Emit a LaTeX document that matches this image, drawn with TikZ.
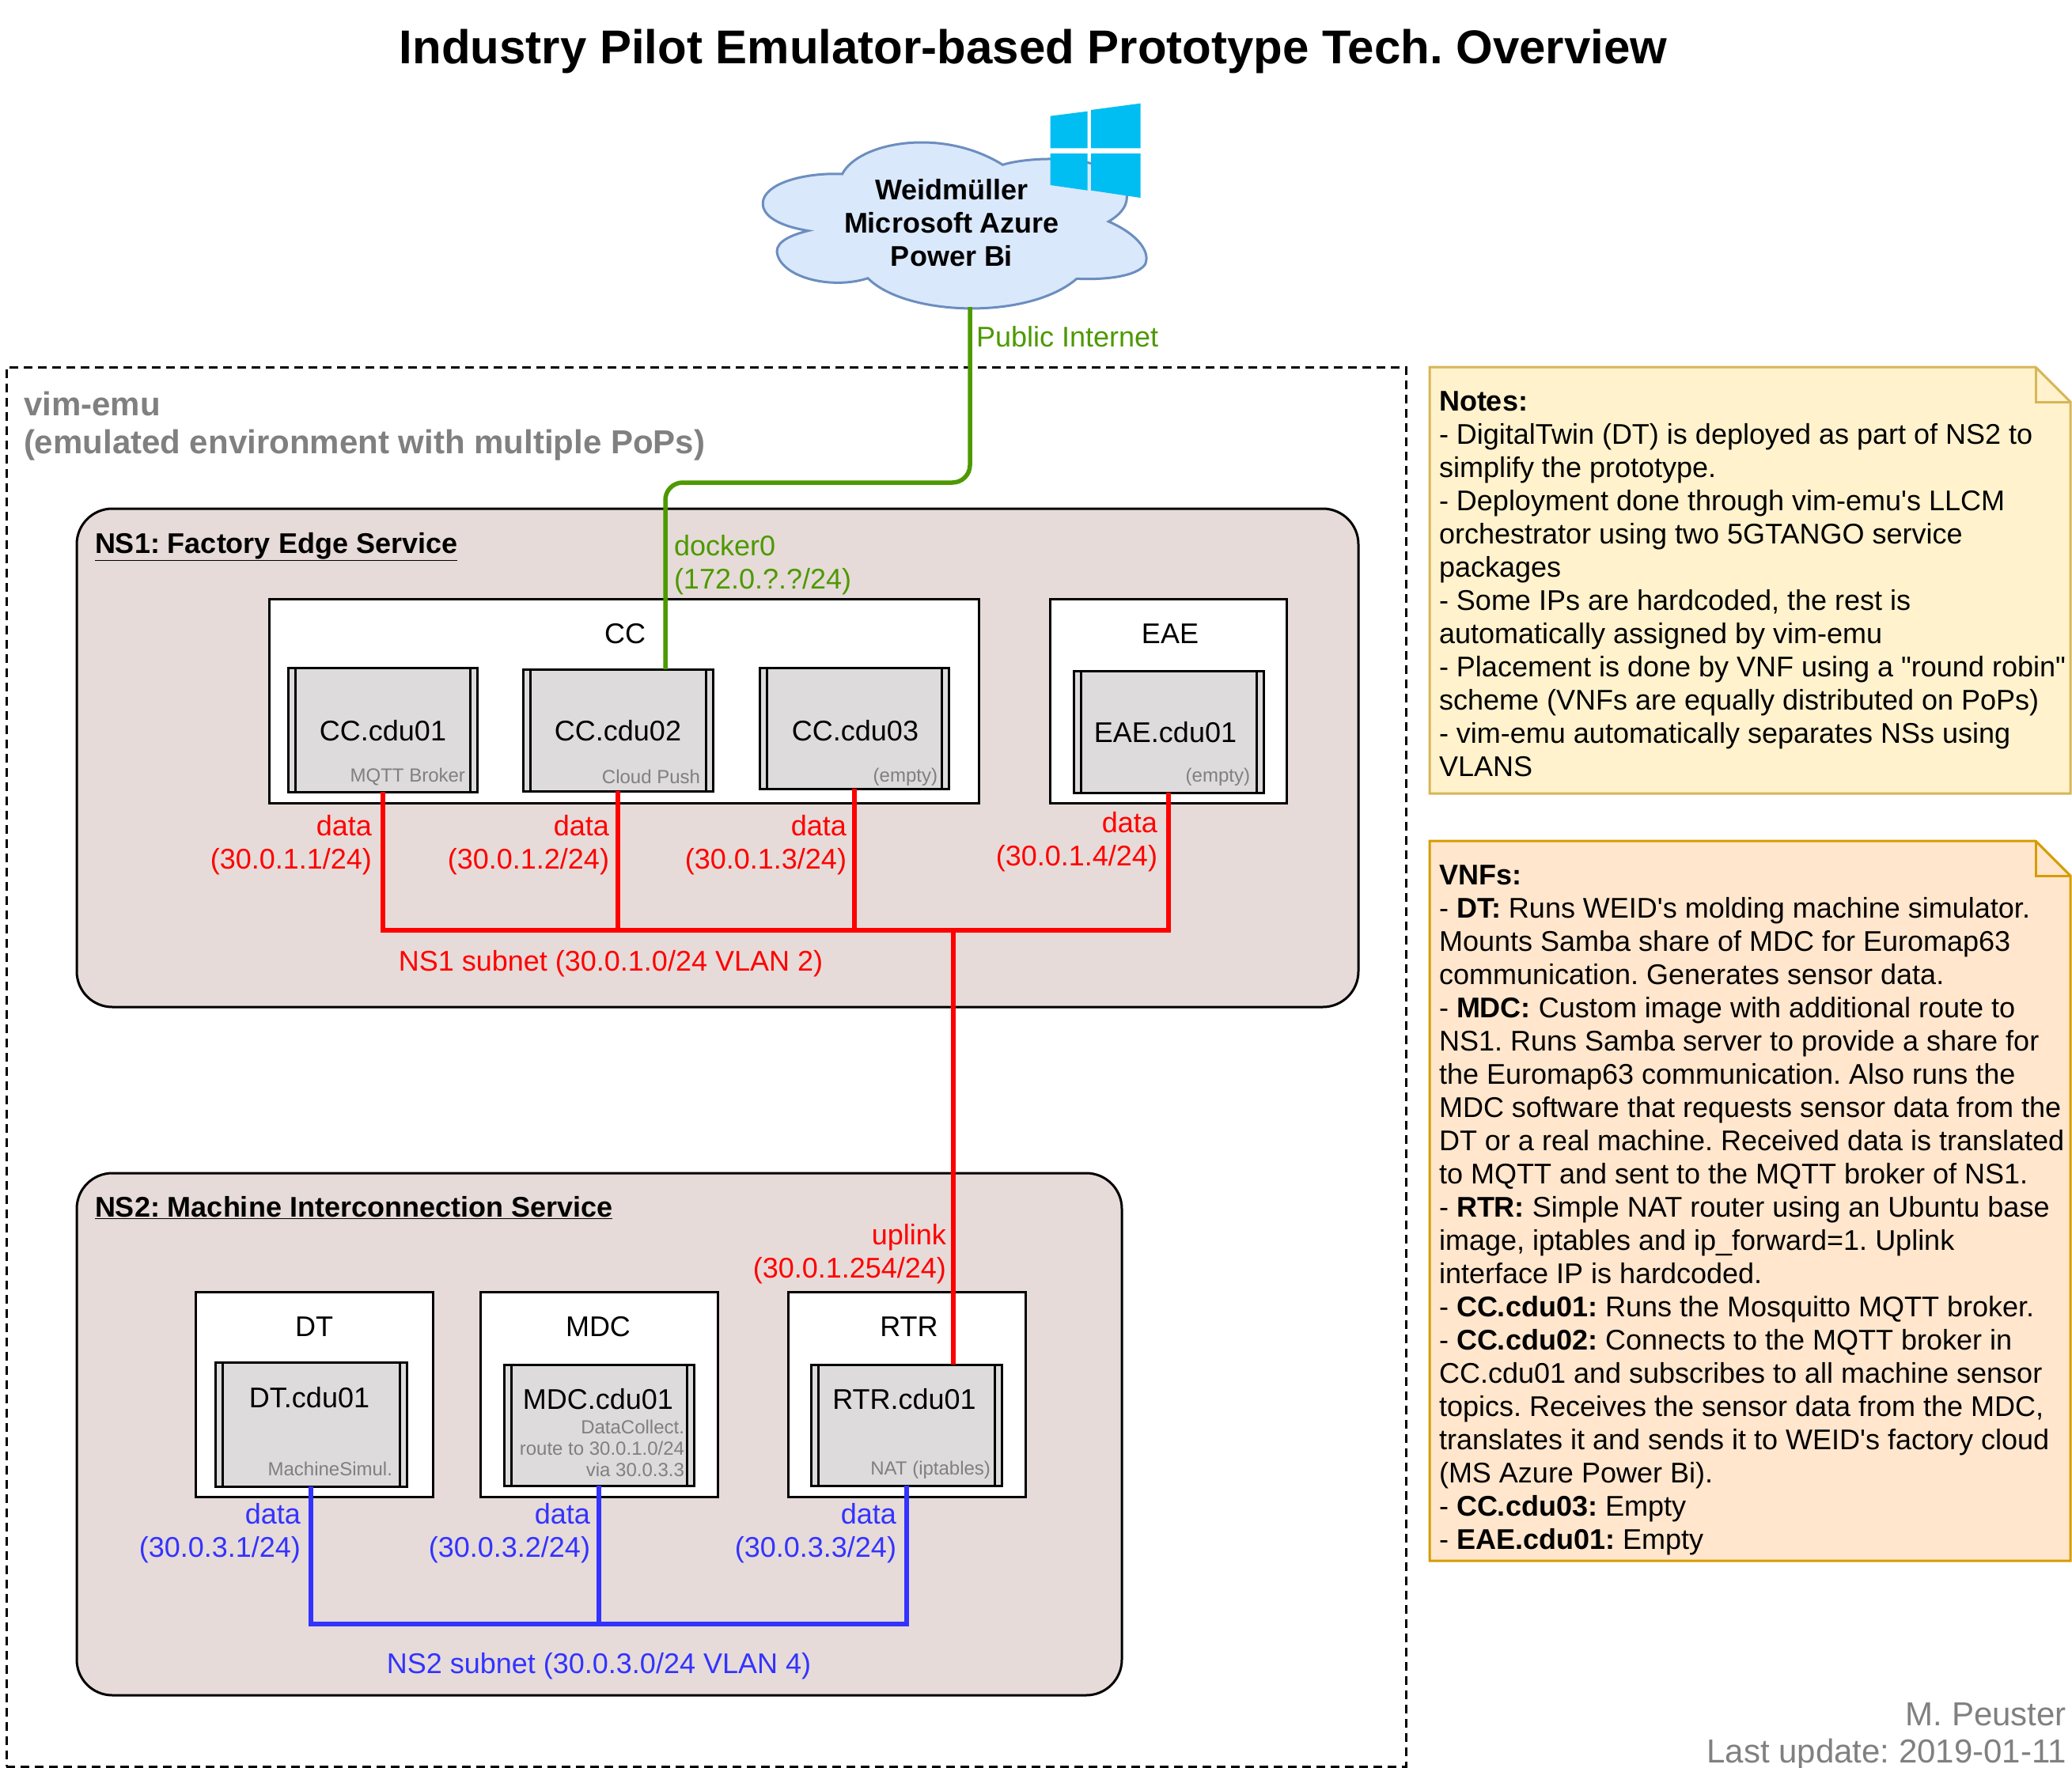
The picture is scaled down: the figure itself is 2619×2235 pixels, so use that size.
\documentclass[tikz,border=0pt]{standalone}
\usepackage{fontspec}
\setmainfont{Liberation Sans}
\newfontfamily\plainfam{Liberation Sans}
\newcommand{\txtsize}{\fontsize{36}{42}\selectfont}
\AtBeginDocument{\frenchspacing}
\definecolor{nsfill}{HTML}{E6DBD8}
\definecolor{vnffill}{HTML}{DDDBDC}
\definecolor{cloudfill}{HTML}{DAE8FC}
\definecolor{cloudline}{HTML}{6C8EBF}
\definecolor{greenl}{HTML}{4D9900}
\definecolor{bluel}{HTML}{3333FF}
\definecolor{logoblue}{HTML}{00BEF2}
\definecolor{yelfill}{HTML}{FFF2CC}
\definecolor{yelline}{HTML}{D6B656}
\definecolor{orfill}{HTML}{FFE6CC}
\definecolor{orline}{HTML}{D79B00}
\tikzset{
  base/.style={inner sep=0pt,outer sep=0pt},
  txt/.style={base,font=\txtsize},
  smalltxt/.style={base,font=\fontsize{24}{27}\selectfont,text=gray,align=right,anchor=east},
  envbox/.style={base,draw=black,line width=3pt,dash pattern=on 11pt off 7pt},
  nsbox/.style={base,draw=black,line width=3pt,fill=nsfill,rounded corners=45pt},
  cbox/.style={base,draw=black,line width=3pt,fill=white},
  vnfbox/.style={base,draw=black,line width=3pt,fill=vnffill,font=\txtsize,
    path picture={
      \draw[black,line width=3pt] ([xshift=9pt]path picture bounding box.north west) -- ([xshift=9pt]path picture bounding box.south west);
      \draw[black,line width=3pt] ([xshift=-9pt]path picture bounding box.north east) -- ([xshift=-9pt]path picture bounding box.south east);
    }},
  redl/.style={draw=red,line width=6pt},
  bluelink/.style={draw=bluel,line width=6pt},
  greenlink/.style={draw=greenl,line width=5.5pt,rounded corners=22pt},
  redlab/.style={txt,text=red,align=right,anchor=east},
  bluelab/.style={txt,text=bluel,align=right,anchor=east},
  hdr/.style={base,font=\bfseries\txtsize,anchor=west},
  notetxt/.style={base,font=\plainfam\txtsize,align=left,anchor=north west},
}
\begin{document}
\begin{tikzpicture}[x=1pt,y=-1pt]
\useasboundingbox (0,0) rectangle (2619,2235);

\node[base,font=\bfseries\fontsize{60}{70}\selectfont] (title) at (1306,65) {Industry Pilot Emulator-based Prototype Tech. Overview};

% environment
\node[envbox,minimum width=1769pt,minimum height=1769pt,anchor=north west] (env) at (8,464) {};
\node[base,font=\bfseries\fontsize{42}{48}\selectfont,text=gray,align=left,anchor=west] (envl) at (30,539) {vim-emu\\(emulated environment with multiple PoPs)};

% cloud
\draw[fill=cloudfill,draw=cloudline,line width=3pt]
  (1064.6,220) .. controls (1085,180) and (1190,160) .. (1267.4,208.3)
  .. controls (1310,195) and (1430,195) .. (1424.3,250)
  .. controls (1424,262) and (1415,272) .. (1401.3,280)
  .. controls (1440,297) and (1455,320) .. (1447,335)
  .. controls (1435,350) and (1395,354) .. (1361,352.3)
  .. controls (1300,405) and (1145,400) .. (1097,351.7)
  .. controls (1050,367) and (985,350) .. (982,318)
  .. controls (982,305) and (1000,297) .. (1021.7,291.7)
  .. controls (980,285) and (960,270) .. (965,252)
  .. controls (972,230) and (1020,218) .. (1064.6,220) -- cycle;
\node[base,font=\bfseries\txtsize,align=center] (cloud) at (1203,282) {Weidmüller\\Microsoft Azure\\Power Bi};
\fill[logoblue] (1327.5,146.7) -- (1374.6,140.7) -- (1374.6,187.3) -- (1327.5,187.3) -- cycle;
\fill[logoblue] (1379,139) -- (1441.5,130.7) -- (1441.5,187.3) -- (1379,187.3) -- cycle;
\fill[logoblue] (1327.5,194) -- (1374.6,194) -- (1374.6,240.7) -- (1327.5,234) -- cycle;
\fill[logoblue] (1379,194) -- (1441.5,194) -- (1441.5,250) -- (1379,240.7) -- cycle;

% service boxes
\node[nsbox,minimum width=1620pt,minimum height=630pt,anchor=north west] (ns1) at (97,643) {};
\node[nsbox,minimum width=1321pt,minimum height=660pt,anchor=north west] (ns2) at (97,1483) {};
\node[hdr] (ns1l) at (120,691) {\underline{NS1: Factory Edge Service}};
\node[hdr] (ns2l) at (120,1527) {\underline{NS2: Machine Interconnection Service}};

% containers
\node[cbox,minimum width=897pt,minimum height=258pt,anchor=north west] (cc) at (340,757) {};
\node[cbox,minimum width=299pt,minimum height=258pt,anchor=north west] (eae) at (1327,757) {};
\node[cbox,minimum width=300pt,minimum height=259pt,anchor=north west] (dt) at (247,1633) {};
\node[cbox,minimum width=300pt,minimum height=259pt,anchor=north west] (mdc) at (607,1633) {};
\node[cbox,minimum width=300pt,minimum height=259pt,anchor=north west] (rtr) at (996,1633) {};
\node[txt] (ccl) at (790,801) {CC};
\node[txt] (eael) at (1479,801) {EAE};
\node[txt] (dtl) at (397,1677) {DT};
\node[txt] (mdcl) at (756,1677) {MDC};
\node[txt] (rtrl) at (1149,1677) {RTR};

% VNFs
\node[vnfbox,minimum width=239pt,minimum height=157pt,anchor=north west] (c1) at (364,844) {};
\node[vnfbox,minimum width=240pt,minimum height=154pt,anchor=north west] (c2) at (661,846) {};
\node[vnfbox,minimum width=239pt,minimum height=153pt,anchor=north west] (c3) at (960,844) {};
\node[vnfbox,minimum width=240pt,minimum height=154pt,anchor=north west] (e1) at (1357,848) {};
\node[vnfbox,minimum width=242pt,minimum height=157pt,anchor=north west] (d1) at (272,1722) {};
\node[vnfbox,minimum width=240pt,minimum height=153pt,anchor=north west] (m1) at (637,1725) {};
\node[vnfbox,minimum width=241pt,minimum height=153pt,anchor=north west] (r1) at (1025,1725) {};
\node[txt] (c1l) at (484,924) {CC.cdu01};
\node[txt] (c2l) at (781,924) {CC.cdu02};
\node[txt] (c3l) at (1081,924) {CC.cdu03};
\node[txt] (e1l) at (1473,926) {EAE.cdu01};
\node[txt] (d1l) at (391,1767) {DT.cdu01};
\node[txt] (m1l) at (756,1769) {MDC.cdu01};
\node[txt] (r1l) at (1143,1769) {RTR.cdu01};
\node[smalltxt] (c1s) at (588,982) {MQTT Broker};
\node[smalltxt] (c2s) at (885,982) {Cloud Push};
\node[smalltxt] (c3s) at (1185,982) {(empty)};
\node[smalltxt] (e1s) at (1580,982) {(empty)};
\node[smalltxt] (d1s) at (496,1857) {MachineSimul.};
\node[smalltxt] (m1s) at (865,1831) {DataCollect.\\route to 30.0.1.0/24\\via 30.0.3.3};
\node[smalltxt] (r1s) at (1252,1858) {NAT (iptables)};

% links
\coordinate (cloudb) at (1226,388);
\coordinate (gturn) at (1226,610);
\draw[greenlink] (cloudb) -- (gturn) -- (841,610) -- (841,846);
\coordinate (busone) at (486,1176);
\coordinate (upj) at (1205,1176);
\draw[redl] (c1.south) -- (c1.south |- busone) -- (e1.south |- busone) -- (e1.south);
\draw[redl] (c2.south) -- (c2.south |- busone);
\draw[redl] (c3.south) -- (c3.south |- busone);
\draw[redl] (upj) -- (upj |- r1.north);
\coordinate (bustwo) at (394,2053);
\draw[bluelink] (d1.south) -- (d1.south |- bustwo) -- (r1.south |- bustwo) -- (r1.south);
\draw[bluelink] (m1.south) -- (m1.south |- bustwo);

% link labels
\node[txt,text=greenl,anchor=west] (pub) at (1234,426) {Public Internet};
\node[txt,text=greenl,align=left,anchor=west] (dock) at (852,714) {docker0\\(172.0.?.?/24)};
\node[redlab] (l1) at (470,1068) {data\\(30.0.1.1/24)};
\node[redlab] (l2) at (770,1068) {data\\(30.0.1.2/24)};
\node[redlab] (l3) at (1070,1068) {data\\(30.0.1.3/24)};
\node[redlab] (l4) at (1463,1064) {data\\(30.0.1.4/24)};
\node[txt,text=red] (ns1s) at (772,1218) {NS1 subnet (30.0.1.0/24 VLAN 2)};
\node[redlab] (upl) at (1196,1585) {uplink\\(30.0.1.254/24)};
\node[bluelab] (b1) at (380,1938) {data\\(30.0.3.1/24)};
\node[bluelab] (b2) at (746,1938) {data\\(30.0.3.2/24)};
\node[bluelab] (b3) at (1133,1938) {data\\(30.0.3.3/24)};
\node[txt,text=bluel] (ns2s) at (757,2106) {NS2 subnet (30.0.3.0/24 VLAN 4)};

% notes
\draw[fill=yelfill,draw=yelline,line width=3pt] (1807,464) -- (2573,464) -- (2617,508) -- (2617,1003) -- (1807,1003) -- cycle;
\draw[draw=yelline,line width=3pt] (2573,464) -- (2573,508) -- (2617,508);
\node[notetxt] (notes) at (1819,495) {\textbf{Notes:}\\
- DigitalTwin (DT) is deployed as part of NS2 to\\
simplify the prototype.\\
- Deployment done through vim-emu's LLCM\\
orchestrator using two 5GTANGO service\\
packages\\
- Some IPs are hardcoded, the rest is\\
automatically assigned by vim-emu\\
- Placement is done by VNF using a "round robin"\\
scheme (VNFs are equally distributed on PoPs)\\
- vim-emu automatically separates NSs using\\
VLANS};

\draw[fill=orfill,draw=orline,line width=3pt] (1807,1063) -- (2573,1063) -- (2617,1107) -- (2617,1973) -- (1807,1973) -- cycle;
\draw[draw=orline,line width=3pt] (2573,1063) -- (2573,1107) -- (2617,1107);
\node[notetxt] (vnfs) at (1819,1094) {\textbf{VNFs:}\\
- \textbf{DT:} Runs WEID's molding machine simulator.\\
Mounts Samba share of MDC for Euromap63\\
communication. Generates sensor data.\\
- \textbf{MDC:} Custom image with additional route to\\
NS1. Runs Samba server to provide a share for\\
the Euromap63 communication. Also runs the\\
MDC software that requests sensor data from the\\
DT or a real machine. Received data is translated\\
to MQTT and sent to the MQTT broker of NS1.\\
- \textbf{RTR:} Simple NAT router using an Ubuntu base\\
image, iptables and ip\_forward=1. Uplink\\
interface IP is hardcoded.\\
- \textbf{CC.cdu01:} Runs the Mosquitto MQTT broker.\\
- \textbf{CC.cdu02:} Connects to the MQTT broker in\\
CC.cdu01 and subscribes to all machine sensor\\
topics. Receives the sensor data from the MDC,\\
translates it and sends it to WEID's factory cloud\\
(MS Azure Power Bi).\\
- \textbf{CC.cdu03:} Empty\\
- \textbf{EAE.cdu01:} Empty};

\node[base,font=\fontsize{42}{47}\selectfont,text=gray,align=right,anchor=east] (foot) at (2612,2195) {M. Peuster\\Last update: 2019-01-11};
\end{tikzpicture}
\end{document}
